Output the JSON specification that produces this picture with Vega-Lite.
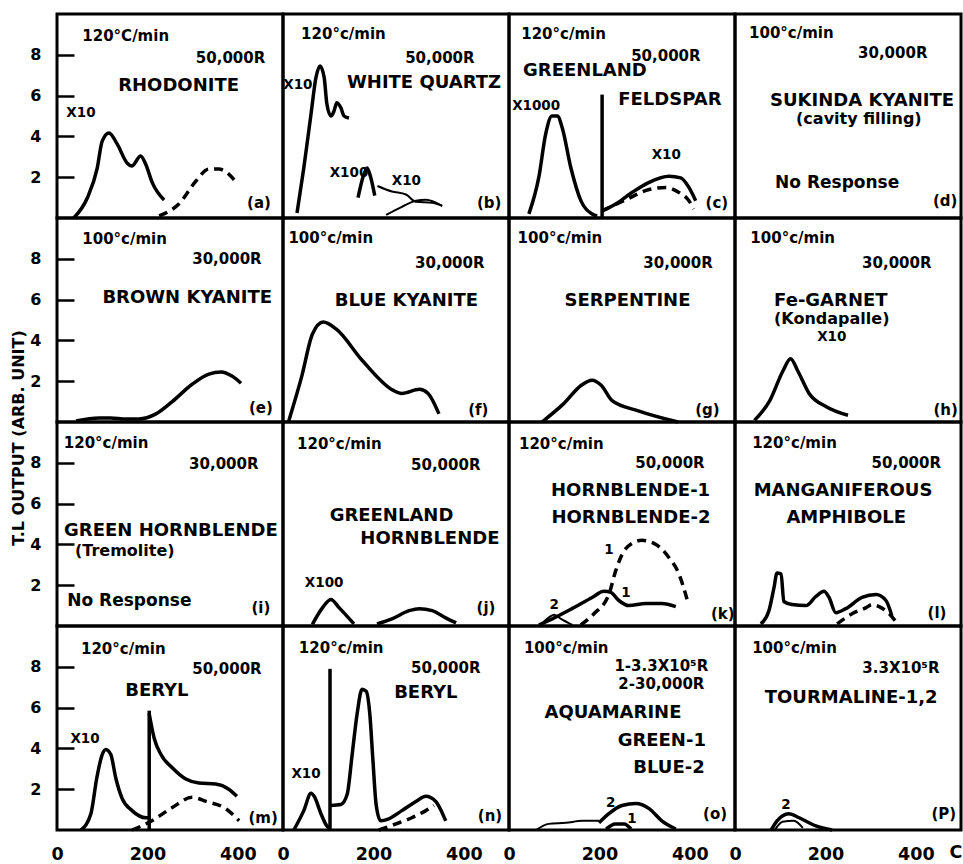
{
"$schema": "https://vega.github.io/schema/vega-lite/v6.json",
"padding": {"left": 10, "top": 12, "right": 0, "bottom": 12},
"bounds": "flush",
"title": {"text": "T.L OUTPUT (ARB. UNIT)", "orient": "left", "anchor": "middle", "fontSize": 16, "font": "DejaVu Sans", "fontWeight": "bold", "color": "black", "offset": 3},
"data": {"values": [
{"panel":"a","series":"a1","style":"solid","x":37,"y":0},{"panel":"a","series":"a1","style":"solid","x":67,"y":0.98},{"panel":"a","series":"a1","style":"solid","x":89,"y":2.45},{"panel":"a","series":"a1","style":"solid","x":100,"y":3.77},{"panel":"a","series":"a1","style":"solid","x":115,"y":4.17},{"panel":"a","series":"a1","style":"solid","x":133,"y":3.63},{"panel":"a","series":"a1","style":"solid","x":155,"y":2.7},{"panel":"a","series":"a1","style":"solid","x":166,"y":2.55},{"panel":"a","series":"a1","style":"solid","x":185,"y":3.04},{"panel":"a","series":"a1","style":"solid","x":196,"y":2.65},{"panel":"a","series":"a1","style":"solid","x":211,"y":1.72},{"panel":"a","series":"a1","style":"solid","x":237,"y":0.88},
{"panel":"a","series":"a2","style":"dash","x":226,"y":0.1},{"panel":"a","series":"a2","style":"dash","x":270,"y":0.7},{"panel":"a","series":"a2","style":"dash","x":307,"y":1.8},{"panel":"a","series":"a2","style":"dash","x":336,"y":2.4},{"panel":"a","series":"a2","style":"dash","x":358,"y":2.4},{"panel":"a","series":"a2","style":"dash","x":380,"y":2.15},{"panel":"a","series":"a2","style":"dash","x":398,"y":1.7},
{"panel":"b","series":"b1","style":"solid","x":31,"y":0.25},{"panel":"b","series":"b1","style":"solid","x":46,"y":2.45},{"panel":"b","series":"b1","style":"solid","x":62,"y":5.1},{"panel":"b","series":"b1","style":"solid","x":73,"y":6.9},{"panel":"b","series":"b1","style":"solid","x":82,"y":7.45},{"panel":"b","series":"b1","style":"solid","x":91,"y":6.9},{"panel":"b","series":"b1","style":"solid","x":97,"y":5.6},{"panel":"b","series":"b1","style":"solid","x":106,"y":5.0},{"panel":"b","series":"b1","style":"solid","x":113,"y":5.25},{"panel":"b","series":"b1","style":"solid","x":119,"y":5.65},{"panel":"b","series":"b1","style":"solid","x":128,"y":5.4},{"panel":"b","series":"b1","style":"solid","x":135,"y":5.0},{"panel":"b","series":"b1","style":"solid","x":146,"y":4.9},
{"panel":"b","series":"b2","style":"solid","x":166,"y":1.0},{"panel":"b","series":"b2","style":"solid","x":179,"y":2.15},{"panel":"b","series":"b2","style":"solid","x":186,"y":2.45},{"panel":"b","series":"b2","style":"solid","x":194,"y":2.0},{"panel":"b","series":"b2","style":"solid","x":203,"y":1.1},
{"panel":"b","series":"b3","style":"thin","x":209,"y":1.57},{"panel":"b","series":"b3","style":"thin","x":241,"y":1.3},{"panel":"b","series":"b3","style":"thin","x":272,"y":1.15},{"panel":"b","series":"b3","style":"thin","x":294,"y":0.8},{"panel":"b","series":"b3","style":"thin","x":330,"y":0.75},{"panel":"b","series":"b3","style":"thin","x":352,"y":0.6},
{"panel":"b","series":"b4","style":"thin","x":228,"y":0.15},{"panel":"b","series":"b4","style":"thin","x":263,"y":0.55},{"panel":"b","series":"b4","style":"thin","x":294,"y":0.85},{"panel":"b","series":"b4","style":"thin","x":316,"y":0.9},{"panel":"b","series":"b4","style":"thin","x":352,"y":0.6},
{"panel":"c","series":"c1","style":"solid","x":44,"y":0.2},{"panel":"c","series":"c1","style":"solid","x":66,"y":2.0},{"panel":"c","series":"c1","style":"solid","x":81,"y":4.1},{"panel":"c","series":"c1","style":"solid","x":95,"y":5.0},{"panel":"c","series":"c1","style":"solid","x":107,"y":5.0},{"panel":"c","series":"c1","style":"solid","x":118,"y":4.4},{"panel":"c","series":"c1","style":"solid","x":137,"y":2.45},{"panel":"c","series":"c1","style":"solid","x":159,"y":0.85},{"panel":"c","series":"c1","style":"solid","x":184,"y":0.2},{"panel":"c","series":"c1","style":"solid","x":195,"y":0.1},
{"panel":"c","series":"c2","style":"solid","x":206,"y":0},{"panel":"c","series":"c2","style":"solid","x":206,"y":6.05},
{"panel":"c","series":"c3","style":"solid","x":206,"y":0.35},{"panel":"c","series":"c3","style":"solid","x":237,"y":0.7},{"panel":"c","series":"c3","style":"solid","x":272,"y":1.25},{"panel":"c","series":"c3","style":"solid","x":310,"y":1.75},{"panel":"c","series":"c3","style":"solid","x":354,"y":2.05},{"panel":"c","series":"c3","style":"solid","x":380,"y":1.97},{"panel":"c","series":"c3","style":"solid","x":398,"y":1.5},{"panel":"c","series":"c3","style":"solid","x":413,"y":0.85},
{"panel":"c","series":"c4","style":"dash","x":206,"y":0.35},{"panel":"c","series":"c4","style":"dash","x":259,"y":0.9},{"panel":"c","series":"c4","style":"dash","x":310,"y":1.4},{"panel":"c","series":"c4","style":"dash","x":347,"y":1.5},{"panel":"c","series":"c4","style":"dash","x":376,"y":1.25},{"panel":"c","series":"c4","style":"dash","x":398,"y":0.85},{"panel":"c","series":"c4","style":"dash","x":409,"y":0.45},
{"panel":"e","series":"e1","style":"solid","x":42,"y":0.05},{"panel":"e","series":"e1","style":"solid","x":93,"y":0.2},{"panel":"e","series":"e1","style":"solid","x":119,"y":0.2},{"panel":"e","series":"e1","style":"solid","x":152,"y":0.15},{"panel":"e","series":"e1","style":"solid","x":181,"y":0.15},{"panel":"e","series":"e1","style":"solid","x":219,"y":0.4},{"panel":"e","series":"e1","style":"solid","x":255,"y":1.0},{"panel":"e","series":"e1","style":"solid","x":299,"y":1.85},{"panel":"e","series":"e1","style":"solid","x":336,"y":2.35},{"panel":"e","series":"e1","style":"solid","x":363,"y":2.45},{"panel":"e","series":"e1","style":"solid","x":387,"y":2.25},{"panel":"e","series":"e1","style":"solid","x":407,"y":1.9},
{"panel":"f","series":"f1","style":"solid","x":12,"y":0},{"panel":"f","series":"f1","style":"solid","x":41,"y":2.2},{"panel":"f","series":"f1","style":"solid","x":65,"y":4.3},{"panel":"f","series":"f1","style":"solid","x":89,"y":4.9},{"panel":"f","series":"f1","style":"solid","x":118,"y":4.55},{"panel":"f","series":"f1","style":"solid","x":176,"y":3.0},{"panel":"f","series":"f1","style":"solid","x":244,"y":1.55},{"panel":"f","series":"f1","style":"solid","x":263,"y":1.4},{"panel":"f","series":"f1","style":"solid","x":302,"y":1.6},{"panel":"f","series":"f1","style":"solid","x":321,"y":1.4},{"panel":"f","series":"f1","style":"solid","x":345,"y":0.4},
{"panel":"g","series":"g1","style":"solid","x":73,"y":0},{"panel":"g","series":"g1","style":"solid","x":121,"y":0.9},{"panel":"g","series":"g1","style":"solid","x":160,"y":1.8},{"panel":"g","series":"g1","style":"solid","x":184,"y":2.05},{"panel":"g","series":"g1","style":"solid","x":204,"y":1.8},{"panel":"g","series":"g1","style":"solid","x":228,"y":1.05},{"panel":"g","series":"g1","style":"solid","x":286,"y":0.55},{"panel":"g","series":"g1","style":"solid","x":374,"y":0},
{"panel":"h","series":"h1","style":"solid","x":43,"y":0.08},{"panel":"h","series":"h1","style":"solid","x":77,"y":1.05},{"panel":"h","series":"h1","style":"solid","x":106,"y":2.5},{"panel":"h","series":"h1","style":"solid","x":123,"y":3.1},{"panel":"h","series":"h1","style":"solid","x":139,"y":2.5},{"panel":"h","series":"h1","style":"solid","x":164,"y":1.4},{"panel":"h","series":"h1","style":"solid","x":202,"y":0.75},{"panel":"h","series":"h1","style":"solid","x":250,"y":0.33},
{"panel":"j","series":"j1","style":"solid","x":65,"y":0.08},{"panel":"j","series":"j1","style":"solid","x":86,"y":0.85},{"panel":"j","series":"j1","style":"solid","x":106,"y":1.3},{"panel":"j","series":"j1","style":"solid","x":124,"y":0.9},{"panel":"j","series":"j1","style":"solid","x":157,"y":0.1},
{"panel":"j","series":"j2","style":"solid","x":208,"y":0.1},{"panel":"j","series":"j2","style":"solid","x":241,"y":0.35},{"panel":"j","series":"j2","style":"solid","x":279,"y":0.75},{"panel":"j","series":"j2","style":"solid","x":301,"y":0.85},{"panel":"j","series":"j2","style":"solid","x":330,"y":0.75},{"panel":"j","series":"j2","style":"solid","x":360,"y":0.4},{"panel":"j","series":"j2","style":"solid","x":383,"y":0.15},
{"panel":"k","series":"k1","style":"dash","x":159,"y":0.05},{"panel":"k","series":"k1","style":"dash","x":188,"y":0.6},{"panel":"k","series":"k1","style":"dash","x":221,"y":1.55},{"panel":"k","series":"k1","style":"dash","x":236,"y":2.7},{"panel":"k","series":"k1","style":"dash","x":250,"y":3.5},{"panel":"k","series":"k1","style":"dash","x":272,"y":4.05},{"panel":"k","series":"k1","style":"dash","x":294,"y":4.2},{"panel":"k","series":"k1","style":"dash","x":325,"y":4.0},{"panel":"k","series":"k1","style":"dash","x":354,"y":3.35},{"panel":"k","series":"k1","style":"dash","x":376,"y":2.55},{"panel":"k","series":"k1","style":"dash","x":394,"y":1.3},
{"panel":"k","series":"k2","style":"solid","x":66,"y":0.05},{"panel":"k","series":"k2","style":"solid","x":100,"y":0.4},{"panel":"k","series":"k2","style":"solid","x":139,"y":0.85},{"panel":"k","series":"k2","style":"solid","x":184,"y":1.4},{"panel":"k","series":"k2","style":"solid","x":210,"y":1.7},{"panel":"k","series":"k2","style":"solid","x":225,"y":1.65},{"panel":"k","series":"k2","style":"solid","x":243,"y":1.25},{"panel":"k","series":"k2","style":"solid","x":265,"y":1.0},{"panel":"k","series":"k2","style":"solid","x":303,"y":1.1},{"panel":"k","series":"k2","style":"solid","x":338,"y":1.1},{"panel":"k","series":"k2","style":"solid","x":369,"y":0.95},
{"panel":"k","series":"k3","style":"thin","x":70,"y":0.05},{"panel":"k","series":"k3","style":"thin","x":90,"y":0.45},{"panel":"k","series":"k3","style":"thin","x":100,"y":0.55},{"panel":"k","series":"k3","style":"thin","x":115,"y":0.35},{"panel":"k","series":"k3","style":"thin","x":140,"y":0.05},
{"panel":"l","series":"l1","style":"solid","x":57,"y":0.1},{"panel":"l","series":"l1","style":"solid","x":75,"y":0.75},{"panel":"l","series":"l1","style":"solid","x":86,"y":1.85},{"panel":"l","series":"l1","style":"solid","x":93,"y":2.6},{"panel":"l","series":"l1","style":"solid","x":102,"y":2.55},{"panel":"l","series":"l1","style":"solid","x":108,"y":1.2},{"panel":"l","series":"l1","style":"solid","x":126,"y":1.05},{"panel":"l","series":"l1","style":"solid","x":157,"y":1.0},{"panel":"l","series":"l1","style":"solid","x":179,"y":1.45},{"panel":"l","series":"l1","style":"solid","x":197,"y":1.7},{"panel":"l","series":"l1","style":"solid","x":208,"y":1.4},{"panel":"l","series":"l1","style":"solid","x":223,"y":0.65},{"panel":"l","series":"l1","style":"solid","x":245,"y":0.85},{"panel":"l","series":"l1","style":"solid","x":281,"y":1.4},{"panel":"l","series":"l1","style":"solid","x":312,"y":1.55},{"panel":"l","series":"l1","style":"solid","x":334,"y":1.25},{"panel":"l","series":"l1","style":"solid","x":347,"y":0.5},
{"panel":"l","series":"l2","style":"dash","x":226,"y":0.1},{"panel":"l","series":"l2","style":"dash","x":259,"y":0.6},{"panel":"l","series":"l2","style":"dash","x":290,"y":0.9},{"panel":"l","series":"l2","style":"dash","x":303,"y":1.05},{"panel":"l","series":"l2","style":"dash","x":319,"y":0.95},{"panel":"l","series":"l2","style":"dash","x":341,"y":0.6},{"panel":"l","series":"l2","style":"dash","x":358,"y":0.15},
{"panel":"m","series":"m1","style":"solid","x":53,"y":0},{"panel":"m","series":"m1","style":"solid","x":75,"y":0.8},{"panel":"m","series":"m1","style":"solid","x":88,"y":2.55},{"panel":"m","series":"m1","style":"solid","x":100,"y":3.7},{"panel":"m","series":"m1","style":"solid","x":108,"y":3.95},{"panel":"m","series":"m1","style":"solid","x":119,"y":3.7},{"panel":"m","series":"m1","style":"solid","x":130,"y":2.55},{"panel":"m","series":"m1","style":"solid","x":144,"y":1.55},{"panel":"m","series":"m1","style":"solid","x":166,"y":0.95},{"panel":"m","series":"m1","style":"solid","x":197,"y":0.6},{"panel":"m","series":"m1","style":"solid","x":208,"y":0.6},
{"panel":"m","series":"m2","style":"solid","x":204,"y":0},{"panel":"m","series":"m2","style":"solid","x":204,"y":5.85},
{"panel":"m","series":"m3","style":"solid","x":204,"y":5.7},{"panel":"m","series":"m3","style":"solid","x":215,"y":4.5},{"panel":"m","series":"m3","style":"solid","x":230,"y":3.7},{"panel":"m","series":"m3","style":"solid","x":255,"y":3.05},{"panel":"m","series":"m3","style":"solid","x":285,"y":2.5},{"panel":"m","series":"m3","style":"solid","x":314,"y":2.3},{"panel":"m","series":"m3","style":"solid","x":351,"y":2.25},{"panel":"m","series":"m3","style":"solid","x":380,"y":2.0},{"panel":"m","series":"m3","style":"solid","x":398,"y":1.65},
{"panel":"m","series":"m4","style":"dash","x":166,"y":0},{"panel":"m","series":"m4","style":"dash","x":210,"y":0.45},{"panel":"m","series":"m4","style":"dash","x":255,"y":1.1},{"panel":"m","series":"m4","style":"dash","x":299,"y":1.6},{"panel":"m","series":"m4","style":"dash","x":330,"y":1.4},{"panel":"m","series":"m4","style":"dash","x":373,"y":1.05},{"panel":"m","series":"m4","style":"dash","x":403,"y":0.45},
{"panel":"n","series":"n1","style":"solid","x":24,"y":0},{"panel":"n","series":"n1","style":"solid","x":46,"y":0.95},{"panel":"n","series":"n1","style":"solid","x":62,"y":1.8},{"panel":"n","series":"n1","style":"solid","x":69,"y":1.65},{"panel":"n","series":"n1","style":"solid","x":84,"y":0.8},{"panel":"n","series":"n1","style":"solid","x":97,"y":0.2},{"panel":"n","series":"n1","style":"solid","x":102,"y":0.1},
{"panel":"n","series":"n2","style":"solid","x":104,"y":0},{"panel":"n","series":"n2","style":"solid","x":104,"y":7.9},
{"panel":"n","series":"n3","style":"solid","x":106,"y":1.2},{"panel":"n","series":"n3","style":"solid","x":128,"y":1.25},{"panel":"n","series":"n3","style":"solid","x":142,"y":1.75},{"panel":"n","series":"n3","style":"solid","x":153,"y":3.7},{"panel":"n","series":"n3","style":"solid","x":164,"y":5.7},{"panel":"n","series":"n3","style":"solid","x":175,"y":6.9},{"panel":"n","series":"n3","style":"solid","x":184,"y":6.8},{"panel":"n","series":"n3","style":"solid","x":192,"y":5.7},{"panel":"n","series":"n3","style":"solid","x":199,"y":3.4},{"panel":"n","series":"n3","style":"solid","x":206,"y":1.25},{"panel":"n","series":"n3","style":"solid","x":216,"y":0.45},{"panel":"n","series":"n3","style":"solid","x":234,"y":0.55},{"panel":"n","series":"n3","style":"solid","x":263,"y":0.95},{"panel":"n","series":"n3","style":"solid","x":294,"y":1.4},{"panel":"n","series":"n3","style":"solid","x":316,"y":1.65},{"panel":"n","series":"n3","style":"solid","x":338,"y":1.4},{"panel":"n","series":"n3","style":"solid","x":352,"y":0.85},{"panel":"n","series":"n3","style":"solid","x":360,"y":0.45},
{"panel":"n","series":"n4","style":"dash","x":212,"y":0},{"panel":"n","series":"n4","style":"dash","x":250,"y":0.3},{"panel":"n","series":"n4","style":"dash","x":285,"y":0.6},{"panel":"n","series":"n4","style":"dash","x":316,"y":0.95},{"panel":"n","series":"n4","style":"dash","x":334,"y":1.2},
{"panel":"o","series":"o1","style":"thin","x":60,"y":0},{"panel":"o","series":"o1","style":"thin","x":88,"y":0.3},{"panel":"o","series":"o1","style":"thin","x":126,"y":0.35},{"panel":"o","series":"o1","style":"thin","x":162,"y":0.45},{"panel":"o","series":"o1","style":"thin","x":199,"y":0.45},
{"panel":"o","series":"o2","style":"solid","x":199,"y":0.35},{"panel":"o","series":"o2","style":"solid","x":221,"y":0.8},{"panel":"o","series":"o2","style":"solid","x":250,"y":1.2},{"panel":"o","series":"o2","style":"solid","x":281,"y":1.3},{"panel":"o","series":"o2","style":"solid","x":310,"y":1.05},{"panel":"o","series":"o2","style":"solid","x":338,"y":0.45},{"panel":"o","series":"o2","style":"solid","x":369,"y":0.05},
{"panel":"o","series":"o3","style":"solid","x":215,"y":0.05},{"panel":"o","series":"o3","style":"solid","x":235,"y":0.3},{"panel":"o","series":"o3","style":"solid","x":255,"y":0.3},{"panel":"o","series":"o3","style":"solid","x":270,"y":0.05},
{"panel":"p","series":"p1","style":"solid","x":80,"y":0},{"panel":"p","series":"p1","style":"solid","x":93,"y":0.45},{"panel":"p","series":"p1","style":"solid","x":119,"y":0.8},{"panel":"p","series":"p1","style":"solid","x":142,"y":0.6},{"panel":"p","series":"p1","style":"solid","x":179,"y":0.2},{"panel":"p","series":"p1","style":"solid","x":215,"y":0},
{"panel":"p","series":"p2","style":"thin","x":88,"y":0},{"panel":"p","series":"p2","style":"thin","x":105,"y":0.4},{"panel":"p","series":"p2","style":"thin","x":130,"y":0.45},{"panel":"p","series":"p2","style":"thin","x":150,"y":0.1},
{"panel":"m","kind":"tick","x":100},{"panel":"m","kind":"tick","x":300},{"panel":"m","kind":"tick","x":400},
{"panel":"n","kind":"tick","x":300},{"panel":"n","kind":"tick","x":400},
{"panel":"o","kind":"tick","x":100},{"panel":"o","kind":"tick","x":300},{"panel":"o","kind":"tick","x":400},
{"panel":"p","kind":"tick","x":200},{"panel":"p","kind":"tick","x":300},{"panel":"p","kind":"tick","x":400},
{"panel":"a","kind":"rate","x":56,"y":8.9,"label":"120°C/min"},{"panel":"a","kind":"dose","x":384,"y":7.85,"label":"50,000R"},{"panel":"a","kind":"name","x":269,"y":6.45,"label":"RHODONITE"},{"panel":"a","kind":"mult","x":53,"y":5.15,"label":"X10"},{"panel":"a","kind":"tag","x":447,"y":0.75,"label":"(a)"},
{"panel":"b","kind":"rate","x":40,"y":9.0,"label":"120°c/min"},{"panel":"b","kind":"dose","x":347,"y":7.85,"label":"50,000R"},{"panel":"b","kind":"name","x":312,"y":6.6,"label":"WHITE QUARTZ"},{"panel":"b","kind":"mult","x":33,"y":6.5,"label":"X10"},{"panel":"b","kind":"mult","x":146,"y":2.2,"label":"X100"},{"panel":"b","kind":"mult","x":273,"y":1.8,"label":"X10"},{"panel":"b","kind":"tag","x":456,"y":0.75,"label":"(b)"},
{"panel":"c","kind":"rate","x":27,"y":9.0,"label":"120°c/min"},{"panel":"c","kind":"dose","x":347,"y":7.95,"label":"50,000R"},{"panel":"c","kind":"name","x":168,"y":7.2,"label":"GREENLAND"},{"panel":"c","kind":"name","x":356,"y":5.8,"label":"FELDSPAR"},{"panel":"c","kind":"mult","x":60,"y":5.5,"label":"X1000"},{"panel":"c","kind":"mult","x":348,"y":3.1,"label":"X10"},{"panel":"c","kind":"tag","x":460,"y":0.75,"label":"(c)"},
{"panel":"d","kind":"rate","x":31,"y":9.05,"label":"100°c/min"},{"panel":"d","kind":"dose","x":349,"y":8.1,"label":"30,000R"},{"panel":"d","kind":"name","x":281,"y":5.75,"label":"SUKINDA KYANITE"},{"panel":"d","kind":"sub","x":274,"y":4.85,"label":"(cavity filling)"},{"panel":"d","kind":"resp","x":226,"y":1.7,"label":"No Response"},{"panel":"d","kind":"tag","x":465,"y":0.85,"label":"(d)"},
{"panel":"e","kind":"rate","x":56,"y":8.95,"label":"100°c/min"},{"panel":"e","kind":"dose","x":376,"y":8.0,"label":"30,000R"},{"panel":"e","kind":"name","x":288,"y":6.1,"label":"BROWN KYANITE"},{"panel":"e","kind":"tag","x":451,"y":0.7,"label":"(e)"},
{"panel":"f","kind":"rate","x":12,"y":9.0,"label":"100°c/min"},{"panel":"f","kind":"dose","x":369,"y":7.8,"label":"30,000R"},{"panel":"f","kind":"name","x":273,"y":5.95,"label":"BLUE KYANITE"},{"panel":"f","kind":"tag","x":432,"y":0.57,"label":"(f)"},
{"panel":"g","kind":"rate","x":19,"y":9.0,"label":"100°c/min"},{"panel":"g","kind":"dose","x":374,"y":7.8,"label":"30,000R"},{"panel":"g","kind":"name","x":262,"y":5.95,"label":"SERPENTINE"},{"panel":"g","kind":"tag","x":439,"y":0.57,"label":"(g)"},
{"panel":"h","kind":"rate","x":34,"y":9.0,"label":"100°c/min"},{"panel":"h","kind":"dose","x":358,"y":7.8,"label":"30,000R"},{"panel":"h","kind":"name","x":212,"y":5.95,"label":"Fe-GARNET"},{"panel":"h","kind":"sub","x":214,"y":5.05,"label":"(Kondapalle)"},{"panel":"h","kind":"mult","x":214,"y":4.15,"label":"X10"},{"panel":"h","kind":"tag","x":466,"y":0.57,"label":"(h)"},
{"panel":"i","kind":"rate","x":15,"y":8.95,"label":"120°c/min"},{"panel":"i","kind":"dose","x":369,"y":7.95,"label":"30,000R"},{"panel":"i","kind":"name","x":252,"y":4.65,"label":"GREEN HORNBLENDE"},{"panel":"i","kind":"sub","x":150,"y":3.7,"label":"(Tremolite)"},{"panel":"i","kind":"resp","x":160,"y":1.25,"label":"No Response"},{"panel":"i","kind":"tag","x":451,"y":0.9,"label":"(i)"},
{"panel":"j","kind":"rate","x":31,"y":8.9,"label":"120°c/min"},{"panel":"j","kind":"dose","x":360,"y":7.9,"label":"50,000R"},{"panel":"j","kind":"name","x":240,"y":5.4,"label":"GREENLAND"},{"panel":"j","kind":"name","x":325,"y":4.25,"label":"HORNBLENDE"},{"panel":"j","kind":"mult","x":91,"y":2.1,"label":"X100"},{"panel":"j","kind":"tag","x":449,"y":0.9,"label":"(j)"},
{"panel":"k","kind":"rate","x":22,"y":8.9,"label":"120°c/min"},{"panel":"k","kind":"dose","x":356,"y":8.0,"label":"50,000R"},{"panel":"k","kind":"name","x":269,"y":6.6,"label":"HORNBLENDE-1"},{"panel":"k","kind":"name","x":270,"y":5.3,"label":"HORNBLENDE-2"},{"panel":"k","kind":"mult","x":221,"y":3.75,"label":"1"},{"panel":"k","kind":"mult","x":259,"y":1.6,"label":"1"},{"panel":"k","kind":"mult","x":100,"y":1.05,"label":"2"},{"panel":"k","kind":"tag","x":473,"y":0.6,"label":"(k)"},
{"panel":"l","kind":"rate","x":38,"y":8.95,"label":"120°c/min"},{"panel":"l","kind":"dose","x":379,"y":8.0,"label":"50,000R"},{"panel":"l","kind":"name","x":239,"y":6.6,"label":"MANGANIFEROUS"},{"panel":"l","kind":"name","x":246,"y":5.3,"label":"AMPHIBOLE"},{"panel":"l","kind":"tag","x":447,"y":0.65,"label":"(l)"},
{"panel":"m","kind":"rate","x":53,"y":8.85,"label":"120°c/min"},{"panel":"m","kind":"dose","x":376,"y":7.9,"label":"50,000R"},{"panel":"m","kind":"name","x":221,"y":6.8,"label":"BERYL"},{"panel":"m","kind":"mult","x":62,"y":4.45,"label":"X10"},{"panel":"m","kind":"tag","x":456,"y":0.6,"label":"(m)"},
{"panel":"n","kind":"rate","x":35,"y":8.9,"label":"120°c/min"},{"panel":"n","kind":"dose","x":360,"y":7.95,"label":"50,000R"},{"panel":"n","kind":"name","x":316,"y":6.7,"label":"BERYL"},{"panel":"n","kind":"mult","x":51,"y":2.75,"label":"X10"},{"panel":"n","kind":"tag","x":458,"y":0.7,"label":"(n)"},
{"panel":"o","kind":"rate","x":33,"y":8.9,"label":"100°c/min"},{"panel":"o","kind":"dose","x":337,"y":8.05,"label":"1-3.3X10⁵R"},{"panel":"o","kind":"dose","x":337,"y":7.15,"label":"2-30,000R"},{"panel":"o","kind":"name","x":230,"y":5.75,"label":"AQUAMARINE"},{"panel":"o","kind":"name","x":338,"y":4.35,"label":"GREEN-1"},{"panel":"o","kind":"name","x":354,"y":3.05,"label":"BLUE-2"},{"panel":"o","kind":"mult","x":225,"y":1.3,"label":"2"},{"panel":"o","kind":"mult","x":272,"y":0.55,"label":"1"},{"panel":"o","kind":"tag","x":456,"y":0.8,"label":"(o)"},
{"panel":"p","kind":"rate","x":38,"y":8.9,"label":"100°c/min"},{"panel":"p","kind":"dose","x":367,"y":7.95,"label":"3.3X10⁵R"},{"panel":"p","kind":"name","x":257,"y":6.45,"label":"TOURMALINE-1,2"},{"panel":"p","kind":"mult","x":113,"y":1.25,"label":"2"},{"panel":"p","kind":"tag","x":462,"y":0.8,"label":"(P)"},{"panel":"p","kind":"unit","x":489,"y":-1.15,"label":"C"}
]},
"facet": {"field": "panel", "type": "nominal", "title": null, "header": {"labels": false, "title": null, "labelFontSize": 0, "labelPadding": 0, "titlePadding": 0, "labelExpr": "''"}},
"columns": 4,
"spacing": {"row": 0, "column": 0},
"spec": {
  "width": 226,
  "height": 204,
  "encoding": {
    "x": {"field": "x", "type": "quantitative", "scale": {"domain": [0, 500], "nice": false, "zero": false},
          "axis": {"values": [0, 200, 400], "title": null, "ticks": false, "domain": false, "grid": false, "labelPadding": 15, "labelFontSize": 17.5, "labelFlush": false, "labelOverlap": false}},
    "y": {"field": "y", "type": "quantitative", "scale": {"domain": [0, 10], "nice": false, "zero": false},
          "axis": {"values": [2, 4, 6, 8], "title": null, "ticks": true, "tickSize": -17, "tickWidth": 2.5, "tickColor": "black", "domain": false, "grid": false, "labelPadding": 33, "labelFontSize": 16}}
  },
  "layer": [
    {"transform": [{"filter": "datum.style == 'solid'"}], "mark": {"type": "line", "color": "black", "strokeWidth": 3.5, "interpolate": "monotone"}, "encoding": {"detail": {"field": "series"}, "order": {"value": null}}},
    {"transform": [{"filter": "datum.style == 'thin'"}], "mark": {"type": "line", "color": "black", "strokeWidth": 2, "interpolate": "monotone"}, "encoding": {"detail": {"field": "series"}, "order": {"value": null}}},
    {"transform": [{"filter": "datum.style == 'dash'"}], "mark": {"type": "line", "color": "black", "strokeWidth": 3.5, "strokeDash": [9, 6], "interpolate": "monotone"}, "encoding": {"detail": {"field": "series"}, "order": {"value": null}}},
    {"transform": [{"filter": "datum.kind == 'tick'"}], "mark": {"type": "rule", "color": "black", "strokeWidth": 3}, "encoding": {"y": {"datum": 0}, "y2": {"datum": 0.6}}},
    {"transform": [{"filter": "datum.kind == 'rate'"}], "mark": {"type": "text", "align": "left", "baseline": "middle", "fontSize": 15, "fontWeight": "bold", "color": "black"}, "encoding": {"text": {"field": "label"}}},
    {"transform": [{"filter": "datum.kind == 'dose'"}], "mark": {"type": "text", "align": "center", "baseline": "middle", "fontSize": 15, "fontWeight": "bold", "color": "black"}, "encoding": {"text": {"field": "label"}}},
    {"transform": [{"filter": "datum.kind == 'name'"}], "mark": {"type": "text", "align": "center", "baseline": "middle", "fontSize": 18, "fontWeight": "bold", "color": "black"}, "encoding": {"text": {"field": "label"}}},
    {"transform": [{"filter": "datum.kind == 'sub'"}], "mark": {"type": "text", "align": "center", "baseline": "middle", "fontSize": 16, "fontWeight": "bold", "color": "black"}, "encoding": {"text": {"field": "label"}}},
    {"transform": [{"filter": "datum.kind == 'mult'"}], "mark": {"type": "text", "align": "center", "baseline": "middle", "fontSize": 13.5, "fontWeight": "bold", "color": "black"}, "encoding": {"text": {"field": "label"}}},
    {"transform": [{"filter": "datum.kind == 'tag'"}], "mark": {"type": "text", "align": "center", "baseline": "middle", "fontSize": 15, "fontWeight": "bold", "color": "black"}, "encoding": {"text": {"field": "label"}}},
    {"transform": [{"filter": "datum.kind == 'resp'"}], "mark": {"type": "text", "align": "center", "baseline": "middle", "fontSize": 17, "fontWeight": "bold", "color": "black"}, "encoding": {"text": {"field": "label"}}},
    {"transform": [{"filter": "datum.kind == 'unit'"}], "mark": {"type": "text", "align": "center", "baseline": "middle", "fontSize": 17.5, "fontWeight": "bold", "color": "black"}, "encoding": {"text": {"field": "label"}}}
  ]
},
"config": {
  "view": {"stroke": "black", "strokeWidth": 3},
  "font": "DejaVu Sans",
  "axis": {"labelFont": "DejaVu Sans", "labelFontWeight": "bold", "labelColor": "black"},
  "text": {"font": "DejaVu Sans"},
  "header": {"labels": false, "title": null, "labelFontSize": 0, "labelPadding": 0},
  "headerFacet": {"labels": false, "title": null, "labelFontSize": 0, "labelPadding": 0}
}
}
